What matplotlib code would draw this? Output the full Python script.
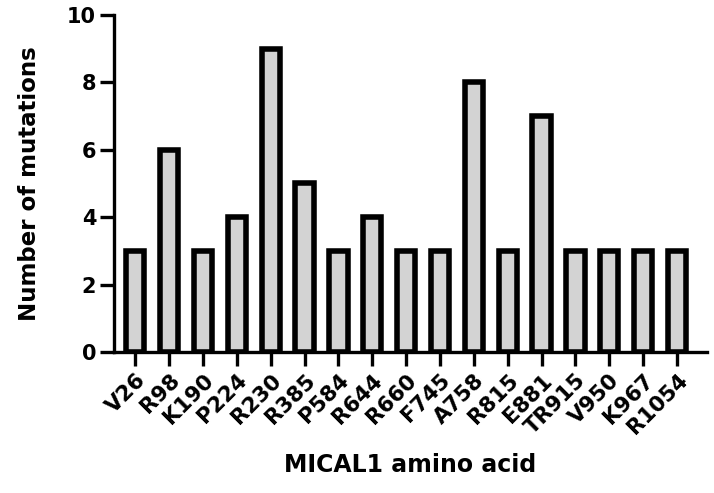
import numpy as np
import matplotlib.pyplot as plt

plt.rcParams['font.family'] = ['DejaVu Sans']
plt.rcParams['font.weight'] = 'bold'

# Datos
residuos = ["V26", "R98", "K190", "P224", "R230", "R385", "P584", "R644", "R660",
            "F745", "A758", "R815", "E881", "TR915", "V950", "K967", "R1054"]
mutaciones = [3, 6, 3, 4, 9, 5, 3, 4, 3, 3, 8, 3, 7, 3, 3, 3, 3]

fig = plt.figure(figsize=(7.14, 4.93), dpi=100)
ax = fig.add_axes([0.16, 0.286, 0.83, 0.684])

x = np.arange(len(residuos))
ax.bar(x, mutaciones, width=0.54, color='#d3d3d3', edgecolor='black', linewidth=4.0)

ax.set_xlim(-0.62, len(residuos) - 1 + 0.88)
ax.set_ylim(0, 10)
ax.set_yticks([0, 2, 4, 6, 8, 10])
ax.set_xticks(x)
ax.set_xticklabels(residuos, rotation=45, ha='right', rotation_mode='anchor')

for s in ['top', 'right']:
    ax.spines[s].set_visible(False)
for s in ['left', 'bottom']:
    ax.spines[s].set_linewidth(2.4)
    ax.spines[s].set_zorder(5)

ax.tick_params(axis='both', width=2.4, length=10, labelsize=15, pad=3)
ax.tick_params(axis='x', labelsize=15.5, pad=3)

ax.set_ylabel("Number of mutations", fontsize=16.5, fontweight='bold', labelpad=19)
ax.set_xlabel("MICAL1 amino acid", fontsize=17, fontweight='bold', labelpad=11)

fig.savefig("out.png", dpi=100)
